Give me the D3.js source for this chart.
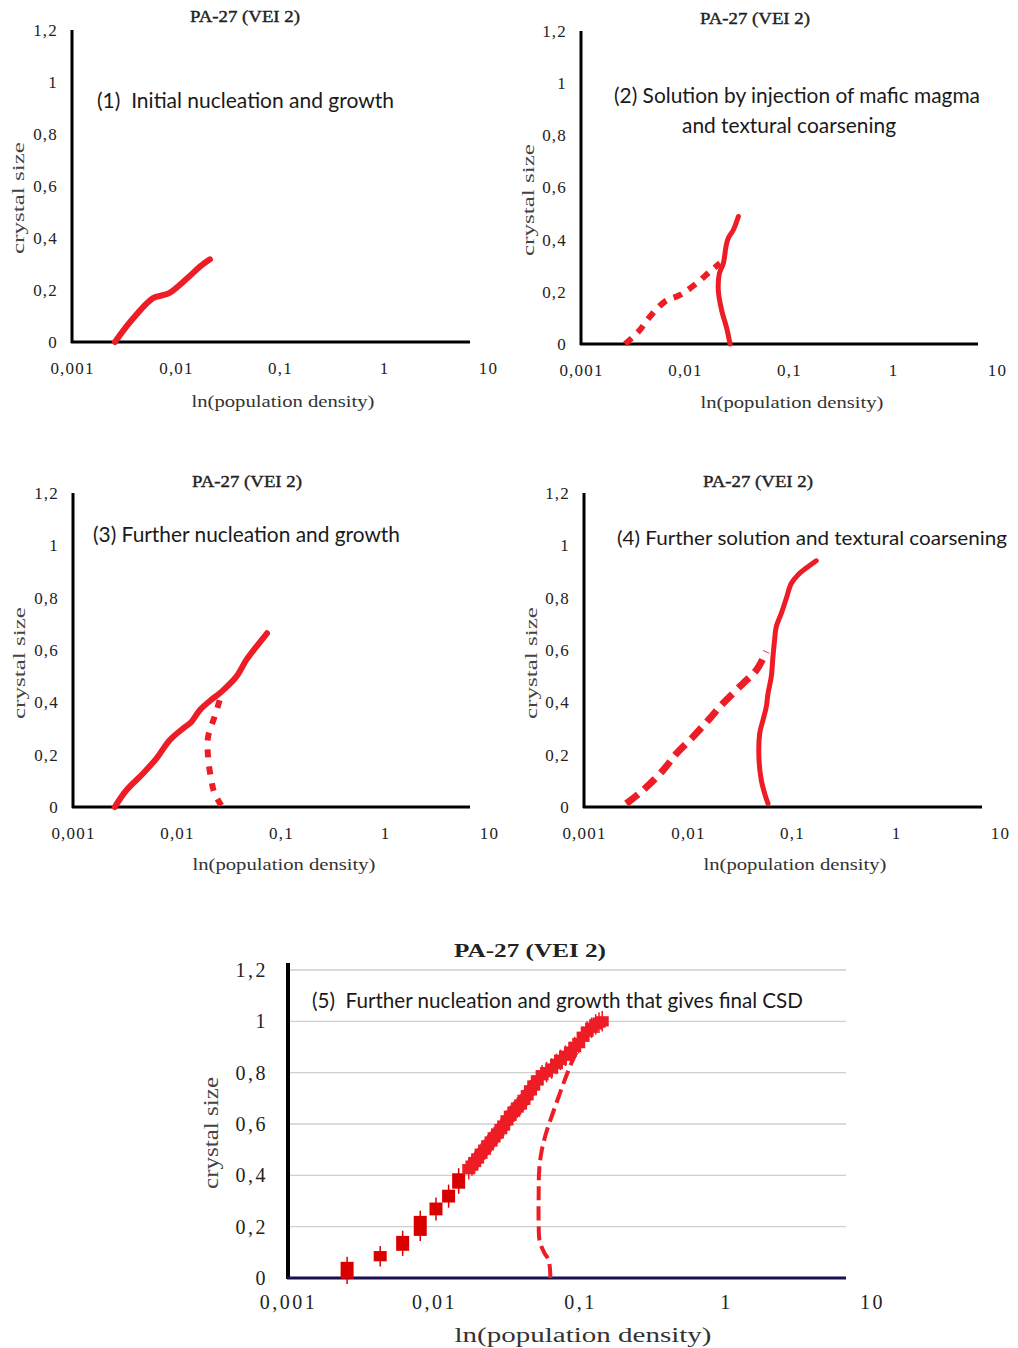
<!DOCTYPE html>
<html>
<head>
<meta charset="utf-8">
<script src="https://d3js.org/d3.v7.min.js"></script>
<style>
  body { margin: 0; background: #fff; }
  svg { display: block; }
  .tick text { font-family: 'Liberation Serif', serif; fill: #222; }
  .note { font-family: Lato, 'Open Sans', sans-serif; fill: #1a1a1a; white-space: pre; }
</style>
</head>
<body>
<svg id="chart" width="1018" height="1348"></svg>
<script>
// ---- data ----
var xTicks = [0.001, 0.01, 0.1, 1, 10];
var yTicks = [0, 0.2, 0.4, 0.6, 0.8, 1, 1.2];

// panel 1 : initial nucleation and growth
var p1Density = [0.00259, 0.00362, 0.00601, 0.0075, 0.00875, 0.0128, 0.0170, 0.0212];
var p1Size    = [0, 0.077, 0.169, 0.18, 0.19, 0.245, 0.29, 0.318];

// panel 2 : solution + coarsening
var p2OldDensity = [0.00265, 0.00356, 0.0046, 0.00642, 0.00895, 0.01294, 0.0174, 0.0217];
var p2OldSize    = [0, 0.047, 0.105, 0.163, 0.188, 0.233, 0.278, 0.31];
var p2NewDensity = [0.0271, 0.0252, 0.0225, 0.0209, 0.0214, 0.0234, 0.0248, 0.0261, 0.0292, 0.0326];
var p2NewSize    = [0, 0.06, 0.13, 0.207, 0.27, 0.31, 0.374, 0.406, 0.438, 0.489];

// panel 3 : further nucleation and growth
var p3NewDensity = [0.00252, 0.00326, 0.00471, 0.00633, 0.00849, 0.01142, 0.01374, 0.01652, 0.0222, 0.0267, 0.0372, 0.0464, 0.0580, 0.0733];
var p3NewSize    = [0, 0.064, 0.128, 0.185, 0.255, 0.30, 0.325, 0.37, 0.415, 0.44, 0.498, 0.562, 0.613, 0.664];
var p3OldDensity = [0.0257, 0.0230, 0.0199, 0.0199, 0.0214, 0.0230, 0.0267];
var p3OldSize    = [0.408, 0.345, 0.268, 0.191, 0.102, 0.051, 0.006];

// panel 4 : further solution and coarsening
var p4NewDensity = [0.0588, 0.0546, 0.0507, 0.0482, 0.0489, 0.0526, 0.0566, 0.0588, 0.0632, 0.0656, 0.068, 0.0706, 0.0789, 0.0882, 0.0986, 0.114, 0.137, 0.171];
var p4NewSize    = [0.013, 0.051, 0.102, 0.179, 0.281, 0.332, 0.383, 0.434, 0.498, 0.574, 0.638, 0.689, 0.740, 0.798, 0.855, 0.887, 0.913, 0.941];
var p4OldDensity = [0.00255, 0.00369, 0.00575, 0.00773, 0.01117, 0.01615, 0.0217, 0.0338, 0.0454, 0.0566];
var p4OldSize    = [0.013, 0.064, 0.14, 0.204, 0.268, 0.338, 0.396, 0.472, 0.523, 0.594];

// panel 5 : final CSD, measured points with error bars
var p5Density = [0.00254, 0.00428, 0.00610, 0.00805, 0.01032, 0.01259, 0.01475,
  0.0173, 0.0182, 0.0190, 0.0199, 0.0210, 0.0222, 0.0233, 0.0246, 0.0258, 0.0272,
  0.0287, 0.0300, 0.0316, 0.0333, 0.0352, 0.0372, 0.0392, 0.0413, 0.0435, 0.0458,
  0.0482, 0.0510, 0.0550, 0.0590, 0.0640, 0.0690, 0.0735, 0.0795, 0.0860, 0.0920,
  0.0980, 0.1050, 0.1120, 0.1200, 0.1280, 0.1350, 0.1420];
var p5Size = [0.03, 0.085, 0.135, 0.203, 0.269, 0.319, 0.378,
  0.424, 0.438, 0.452, 0.466, 0.484, 0.500, 0.517, 0.532, 0.548, 0.563,
  0.580, 0.594, 0.614, 0.632, 0.648, 0.664, 0.676, 0.694, 0.712, 0.731,
  0.750, 0.770, 0.790, 0.802, 0.816, 0.834, 0.850, 0.866, 0.882, 0.900,
  0.915, 0.940, 0.960, 0.975, 0.988, 0.995, 1.000];
var p5BoxHalf = [0.033, 0.02, 0.029, 0.039, 0.025, 0.025, 0.03];
var p5Err = 0.02;
var p5LineDensity = [0.0627, 0.0610, 0.0570, 0.0530, 0.0521, 0.0521, 0.0526, 0.0549, 0.0588, 0.0643, 0.0714, 0.0794, 0.0882, 0.098, 0.1117, 0.127];
var p5LineSize    = [0, 0.070, 0.098, 0.142, 0.214, 0.319, 0.424, 0.502, 0.568, 0.633, 0.706, 0.778, 0.843, 0.896, 0.948, 0.988];

var RED = "#ee1c25";
var svg = d3.select("#chart");

function pts(xs, ys) { return xs.map(function (x, i) { return [x, ys[i]]; }); }
function fmt(d) { return String(d).replace(".", ","); }

function panel(c) {
  var x = d3.scaleLog().domain([0.001, 10]).range([c.x0, c.x0 + 4 * c.dec]);
  var y = d3.scaleLinear().domain([0, 1.2]).range([c.y0, c.yTop]);
  var g = svg.append("g");

  if (c.grid) {
    g.selectAll("line.grid").data(yTicks.slice(1)).enter().append("line")
      .attr("x1", c.x0).attr("x2", c.xEnd)
      .attr("y1", function (d) { return y(d); }).attr("y2", function (d) { return y(d); })
      .attr("stroke", "#cfcfcf").attr("stroke-width", 1.3);
  }

  g.append("g").attr("transform", "translate(0," + c.y0 + ")")
    .call(d3.axisBottom(x).tickValues(xTicks).tickFormat(fmt).tickSize(0).tickPadding(c.xPad))
    .call(function (a) { a.select(".domain").remove(); })
    .selectAll("text").style("font-size", c.fs + "px").style("letter-spacing", c.ls + "px");

  g.append("g").attr("transform", "translate(" + c.x0 + ",0)")
    .call(d3.axisLeft(y).tickValues(yTicks).tickFormat(fmt).tickSize(0).tickPadding(c.yPad))
    .call(function (a) { a.select(".domain").remove(); })
    .selectAll("text").style("font-size", c.fs + "px").style("letter-spacing", c.ls + "px");

  // axis lines
  g.append("line").attr("x1", c.x0).attr("x2", c.x0)
    .attr("y1", c.y0 + 1).attr("y2", c.yAxisTop || c.yTop)
    .attr("stroke", "#000").attr("stroke-width", c.yW);
  g.append("line").attr("x1", c.x0 - 1).attr("x2", c.xEnd)
    .attr("y1", c.y0).attr("y2", c.y0)
    .attr("stroke", c.xColor || "#000").attr("stroke-width", c.xW);

  // titles and labels
  g.append("text").text("PA-27 (VEI 2)")
    .attr("x", c.titleX).attr("y", c.titleY).attr("text-anchor", "middle")
    .attr("textLength", c.titleW).attr("lengthAdjust", "spacingAndGlyphs")
    .style("font-family", "'Liberation Serif', serif").style("font-weight", c.titleBold ? "bold" : "normal")
    .style("stroke", "#222").style("stroke-width", c.titleBold ? 0 : 0.4)
    .style("font-size", c.titleFs + "px").style("fill", "#222");
  g.append("text").text("ln(population density)")
    .attr("x", c.xLabX).attr("y", c.xLabY).attr("text-anchor", "middle")
    .attr("textLength", c.xLabW).attr("lengthAdjust", "spacingAndGlyphs")
    .style("font-family", "'Liberation Serif', serif").style("font-size", c.labFs + "px").style("fill", "#333");
  g.append("text").text("crystal size")
    .attr("transform", "translate(" + c.yLabX + "," + c.yLabY + ") rotate(-90)")
    .attr("text-anchor", "middle").attr("dy", "0.35em")
    .attr("textLength", 112).attr("lengthAdjust", "spacingAndGlyphs")
    .style("font-family", "'Liberation Serif', serif").style("font-size", c.labFs + "px").style("fill", "#444");

  c.notes.forEach(function (n) {
    g.append("text").attr("class", "note").text(n.t)
      .attr("x", n.x).attr("y", n.y)
      .attr("textLength", n.w).attr("lengthAdjust", "spacingAndGlyphs")
      .style("font-size", (n.fs || 22) + "px");
  });

  var line = d3.line().curve(d3.curveCatmullRom)
    .x(function (d) { return x(d[0]); }).y(function (d) { return y(d[1]); });

  c.lines.forEach(function (l) {
    g.append("path").attr("d", line(l.data))
      .attr("fill", "none").attr("stroke", RED)
      .attr("stroke-width", l.w)
      .attr("stroke-linecap", l.dash ? "butt" : "round")
      .attr("stroke-linejoin", "round")
      .attr("stroke-dasharray", l.dash || null);
  });

  return { x: x, y: y, g: g };
}

// panel 1
panel({ x0: 72, y0: 342, yTop: 30, dec: 104, xEnd: 470, xPad: 20, yPad: 14, fs: 17, ls: 1.2,
  yW: 3, xW: 3, titleX: 245, titleY: 22, titleW: 110, titleFs: 17,
  xLabX: 283, xLabY: 407, xLabW: 183, labFs: 17, yLabX: 18, yLabY: 198,
  notes: [{ t: "(1)  Initial nucleation and growth", x: 97, y: 108, w: 297 }],
  lines: [{ data: pts(p1Density, p1Size), w: 6 }] });

// panel 2
panel({ x0: 581, y0: 344, yTop: 31, dec: 104, xEnd: 978, xPad: 20, yPad: 14, fs: 17, ls: 1.2,
  yW: 3, xW: 3, titleX: 755, titleY: 24, titleW: 110, titleFs: 17,
  xLabX: 792, xLabY: 408, xLabW: 183, labFs: 17, yLabX: 528, yLabY: 200,
  notes: [{ t: "(2) Solution by injection of mafic magma", x: 614, y: 103, w: 366 },
          { t: "and textural coarsening", x: 682, y: 133, w: 214 }],
  lines: [{ data: pts(p2OldDensity, p2OldSize), w: 6, dash: "9,8" },
          { data: pts(p2NewDensity, p2NewSize), w: 5 }] });

// panel 3
panel({ x0: 73, y0: 807, yTop: 493, dec: 104, xEnd: 470, xPad: 20, yPad: 14, fs: 17, ls: 1.2,
  yW: 3, xW: 3, titleX: 247, titleY: 487, titleW: 110, titleFs: 17,
  xLabX: 284, xLabY: 870, xLabW: 183, labFs: 17, yLabX: 19, yLabY: 663,
  notes: [{ t: "(3) Further nucleation and growth", x: 93, y: 542, w: 307 }],
  lines: [{ data: pts(p3NewDensity, p3NewSize), w: 6 },
          { data: pts(p3OldDensity, p3OldSize), w: 6, dash: "8,9" }] });

// panel 4
panel({ x0: 584, y0: 807, yTop: 493, dec: 104, xEnd: 982, xPad: 20, yPad: 14, fs: 17, ls: 1.2,
  yW: 3, xW: 3, titleX: 758, titleY: 487, titleW: 110, titleFs: 17,
  xLabX: 795, xLabY: 870, xLabW: 183, labFs: 17, yLabX: 531, yLabY: 663,
  notes: [{ t: "(4) Further solution and textural coarsening", x: 617, y: 545, w: 390, fs: 20 }],
  lines: [{ data: pts(p4NewDensity, p4NewSize), w: 5 },
          { data: pts(p4OldDensity, p4OldSize), w: 7, dash: "15,8" }] });

// panel 5
var p5 = panel({ x0: 288, y0: 1278, yTop: 970, yAxisTop: 963, dec: 146, xEnd: 846, xPad: 17, yPad: 20, fs: 20, ls: 2.5,
  yW: 4, xW: 3, xColor: "#1b1050", grid: true, titleBold: true, titleX: 530, titleY: 957, titleW: 152, titleFs: 19,
  xLabX: 583, xLabY: 1342, xLabW: 257, labFs: 20, yLabX: 211, yLabY: 1133,
  notes: [{ t: "(5)  Further nucleation and growth that gives final CSD", x: 312, y: 1008, w: 491 }],
  lines: [{ data: pts(p5LineDensity, p5LineSize), w: 4, dash: "14,6" }] });

var p5pts = pts(p5Density, p5Size);
var mk = p5.g.selectAll("g.mk").data(p5pts).enter().append("g");
mk.append("line")
  .attr("x1", function (d) { return p5.x(d[0]); }).attr("x2", function (d) { return p5.x(d[0]); })
  .attr("y1", function (d, i) { return p5.y(d[1] + (p5BoxHalf[i] || 0.02) + p5Err); })
  .attr("y2", function (d, i) { return p5.y(d[1] - (p5BoxHalf[i] || 0.02) - p5Err); })
  .attr("stroke", function (d, i) { return i < 7 ? "#d90000" : RED; }).attr("stroke-width", 1.5);
mk.append("rect")
  .attr("x", function (d) { return p5.x(d[0]) - 6.5; }).attr("width", 13)
  .attr("y", function (d, i) { return p5.y(d[1] + (p5BoxHalf[i] || 0.02)); })
  .attr("height", function (d, i) { return p5.y(0) - p5.y(2 * (p5BoxHalf[i] || 0.02)); })
  .attr("fill", function (d, i) { return i < 7 ? "#d90000" : RED; });
</script>
</body>
</html>
